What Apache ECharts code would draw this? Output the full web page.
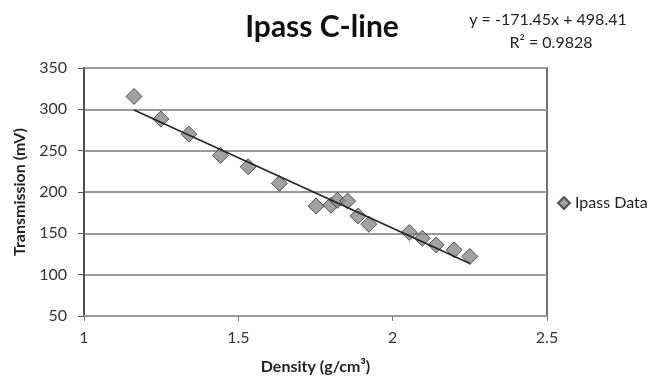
<!DOCTYPE html>
<html>
<head>
<meta charset="utf-8">
<script src="https://cdn.jsdelivr.net/npm/echarts@6/dist/echarts.min.js"></script>
<style>
  html, body { margin: 0; padding: 0; background: #fff; }
  #chart { width: 651px; height: 377px; }
</style>
</head>
<body>
<div id="chart"></div>
<script>
// density (g/cm3) vs transmission (mV)
const density = [1.162, 1.249, 1.340, 1.442, 1.532, 1.633, 1.752, 1.800, 1.821, 1.854, 1.888, 1.923, 2.054, 2.096, 2.141, 2.199, 2.250];
const transmission = [315.6, 288.3, 270, 244.3, 230.5, 210.4, 183, 184, 190, 189, 171, 161, 151, 144, 136, 130, 122];

// linear trendline ends
const trendX = [1.162, 2.250];
const trendY = [299.2, 113.5];

const xTicks = [1, 1.5, 2, 2.5];
const yTicks = [50, 100, 150, 200, 250, 300, 350];

const chart = echarts.init(document.getElementById('chart'));
const font = 'Lato, "Open Sans", sans-serif';

const option = {
  animation: false,
  textStyle: { fontFamily: font },
  title: {
    text: 'Ipass C-line',
    left: 317,
    top: 7,
    textAlign: 'center',
    textStyle: { fontSize: 30, fontWeight: 'bold', color: '#111', fontFamily: font },
  },
  grid: {
    left: 84,
    right: 104,
    top: 68,
    bottom: 61,
    outerBoundsMode: 'none',
    show: true,
    borderColor: '#444',
    borderWidth: 1.5,
  },
  legend: {
    data: ['Ipass Data'],
    left: 552,
    top: 190,
    icon: 'diamond',
    itemWidth: 12,
    itemHeight: 12,
    itemGap: 4,
    textStyle: { fontSize: 16, color: '#222', fontFamily: font },
  },
  xAxis: {
    type: 'value',
    min: xTicks[0],
    max: xTicks[xTicks.length - 1],
    interval: 0.5,
    name: 'Density (g/cm³)',
    nameLocation: 'middle',
    nameGap: 43,
    nameTextStyle: { fontSize: 16, fontWeight: 'bold', color: '#222' },
    axisLine: { lineStyle: { color: '#999', width: 2 } },
    axisTick: { show: true, length: 5, lineStyle: { color: '#777' } },
    axisLabel: { fontSize: 16, color: '#333', margin: 14 },
    splitLine: { show: false },
  },
  yAxis: {
    type: 'value',
    min: yTicks[0],
    max: yTicks[yTicks.length - 1],
    interval: 50,
    name: 'Transmission (mV)',
    nameLocation: 'middle',
    nameGap: 56,
    nameTextStyle: { fontSize: 16, fontWeight: 'bold', color: '#222' },
    axisLine: { show: true, lineStyle: { color: '#444', width: 1.5 } },
    axisTick: { show: true, length: 6, lineStyle: { color: '#555' } },
    axisLabel: { fontSize: 16, color: '#333', margin: 17 },
    splitLine: { show: true, lineStyle: { color: '#999', width: 2 } },
  },
  series: [
    {
      name: 'Trend',
      type: 'line',
      data: trendX.map((x, i) => [x, trendY[i]]),
      symbol: 'none',
      lineStyle: { color: '#222', width: 1.5 },
      z: 3,
    },
    {
      name: 'Ipass Data',
      type: 'scatter',
      data: density.map((x, i) => [x, transmission[i]]),
      symbol: 'diamond',
      symbolSize: 16,
      itemStyle: { color: '#8a8a8a', borderColor: '#333', borderWidth: 1 },
      z: 2,
    },
  ],
  graphic: [
    {
      type: 'text',
      x: 548,
      y: 20,
      style: {
        text: 'y = -171.45x + 498.41',
        align: 'center',
        verticalAlign: 'middle',
        fontSize: 16,
        fill: '#222',
        fontFamily: font,
      },
    },
    {
      type: 'text',
      x: 551,
      y: 43,
      style: {
        text: 'R² = 0.9828',
        align: 'center',
        verticalAlign: 'middle',
        fontSize: 16,
        fill: '#222',
        fontFamily: font,
      },
    },
  ],
};

chart.setOption(option);
</script>
</body>
</html>
